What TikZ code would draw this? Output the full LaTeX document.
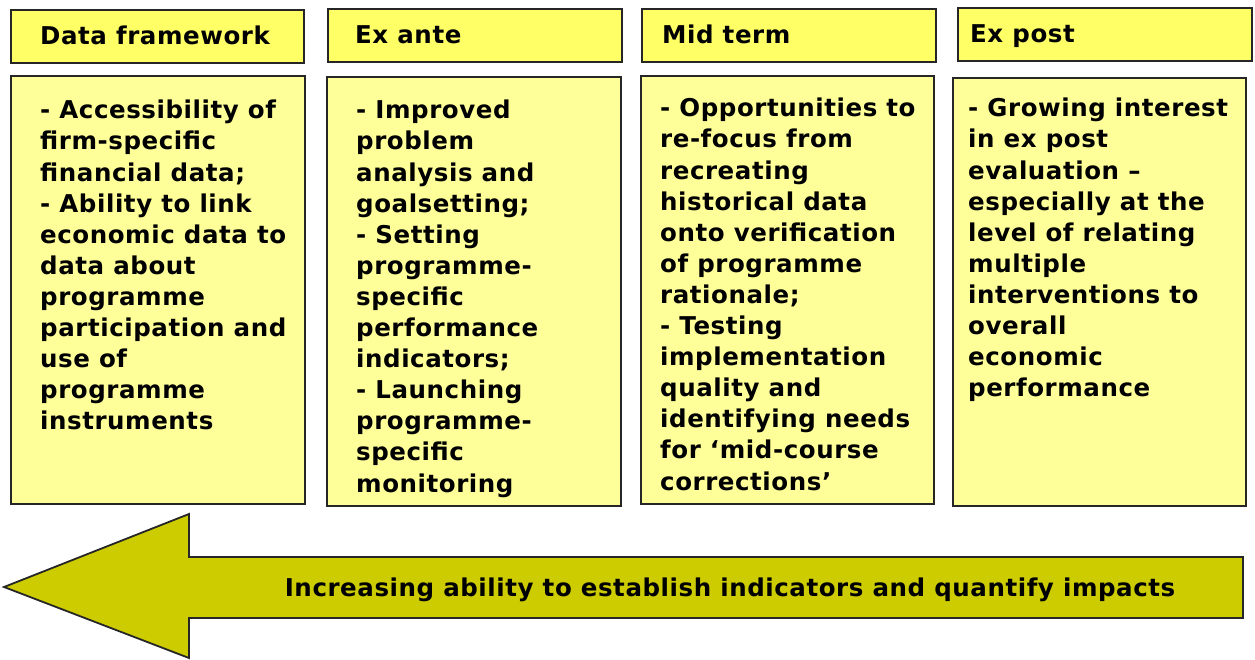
\documentclass[tikz,border=0pt]{standalone}
\usepackage{fontspec}
\setmainfont[LetterSpace=2.3]{DejaVu Sans}
\definecolor{headyellow}{HTML}{FFFF66}
\definecolor{bodyyellow}{HTML}{FFFF99}
\definecolor{arrowolive}{HTML}{CCCC00}
\newcommand{\boxfont}{\fontsize{24.5}{31.1}\selectfont\bfseries}

\begin{document}
\begin{tikzpicture}[x=1pt,y=-1pt,
  headbox/.style={draw=black!85,fill=headyellow,line width=1.8pt,anchor=north west,inner sep=0pt},
  bodybox/.style={draw=black!85,fill=bodyyellow,line width=1.8pt,anchor=north west,inner sep=0pt},
  headtext/.style={anchor=base west,inner sep=0pt,font=\boxfont},
  bodytext/.style={anchor=north west,inner sep=0pt,align=left,font=\boxfont,execute at begin node=\strut}]
\useasboundingbox (0,0) rectangle (1255,659);
% headings
\foreach \i/\x/\y/\w/\d/\t in {1/10/9/293/30/Data framework,2/327/8/294/28/Ex ante,3/641/8/294/21/Mid term,4/957/7/294/13/Ex post}
{
	\node[headbox,minimum width=\w,minimum height=53] (h\i) at (\x,\y) {};
	\node[headtext] (t\i) at ([xshift=\d,yshift=-35]h\i.north west) {\t};
}
% bodies
\node[bodybox,minimum width=294,minimum height=428] (b1) at (10,75) {};
\node[bodybox,minimum width=294,minimum height=429] (b2) at (326,76) {};
\node[bodybox,minimum width=293,minimum height=428] (b3) at (640,75) {};
\node[bodybox,minimum width=293,minimum height=428] (b4) at (952,77) {};
\node[bodytext] (c1) at (40,100) {- Accessibility of\\firm-specific\\financial data;\\- Ability to link\\economic data to\\data about\\programme\\participation and\\use of\\programme\\instruments};
\node[bodytext] (c2) at (356,100) {- Improved\\problem\\analysis and\\goalsetting;\\- Setting\\programme-\\specific\\performance\\indicators;\\- Launching\\programme-\\specific\\monitoring};
\node[bodytext] (c3) at (660,98) {- Opportunities to\\re-focus from\\recreating\\historical data\\onto verification\\of programme\\rationale;\\- Testing\\implementation\\quality and\\identifying needs\\for ‘mid-course\\corrections’};
\node[bodytext] (c4) at (968,98) {- Growing interest\\in ex post\\evaluation –\\especially at the\\level of relating\\multiple\\interventions to\\overall\\economic\\performance};
% arrow
\draw[fill=arrowolive,line width=1.8pt,draw=black!85,line join=miter]
  (1243,557) -- (189,557) -- (189,514) -- (4,587) -- (189,658) -- (189,618) -- (1243,618) -- cycle;
\node[headtext,anchor=base] (arr) at (730,596) {Increasing ability to establish indicators and quantify impacts};
\end{tikzpicture}
\end{document}
